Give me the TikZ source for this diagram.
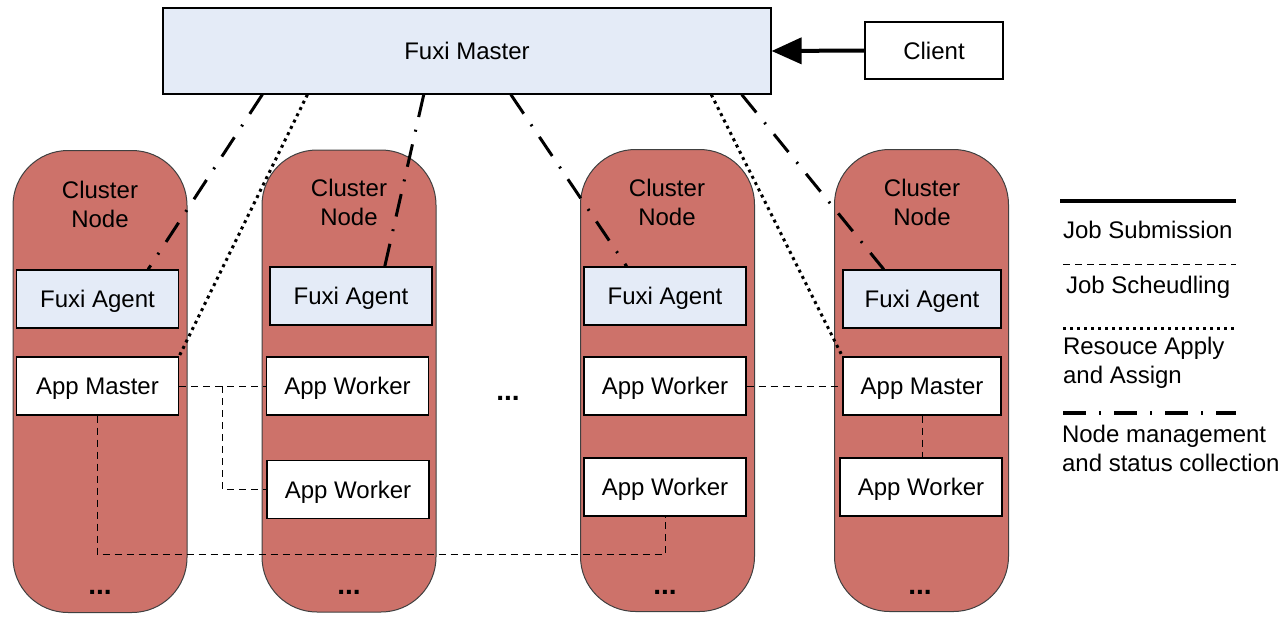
\documentclass[tikz,border=0pt]{standalone}
\usepackage{fontspec}
\setmainfont{Liberation Sans}
\usetikzlibrary{arrows.meta, positioning, calc}
\definecolor{nodered}{RGB}{205,114,106}
\definecolor{fuxiblue}{RGB}{228,235,247}

\begin{document}
\begin{tikzpicture}[
    x=0.5pt, y=-0.5pt,
    every node/.style={font=\fontsize{12}{14.5}\selectfont},
    cluster/.style={rectangle, draw=black!75, line width=0.5pt, fill=nodered, rounded corners=27.5pt, minimum width=87pt, minimum height=231pt},
    box/.style={rectangle, draw, line width=0.6pt, fill=white, minimum width=81pt, minimum height=29pt, inner sep=0pt, text depth=0pt},
    agent/.style={box, fill=fuxiblue},
    more/.style={font=\fontsize{14}{16}\selectfont\bfseries},
    submit/.style={line width=2pt},
    sched/.style={line width=0.5pt, dash pattern=on 3.5pt off 2.5pt},
    apply/.style={line width=1.5pt, dash pattern=on 1.5pt off 2pt},
    manage/.style={line width=1.5pt, dash pattern=on 11.5pt off 6.5pt on 1pt off 6.5pt}
]
\useasboundingbox (0,0) rectangle (1286,617);

\node[box, fill=fuxiblue, minimum width=304pt, minimum height=43pt] (fm) at (467,51) {Fuxi Master};
\node[box, minimum width=69pt, minimum height=28.5pt] (cl) at (934,50.5) {Client};
\draw[submit, -{Triangle[length=15pt, width=13pt]}] (cl.west) -- (fm.east);

\node[cluster] (c1) at (100,381.5) {};
\node[cluster] (c2) at (349,381) {};
\node[cluster] (c3) at (667.5,380.5) {};
\node[cluster] (c4) at (921.5,380.5) {};
\node[align=center] (t1) at (100,204) {Cluster\\Node};
\node[align=center] (t2) at (349,202) {Cluster\\Node};
\node[align=center] (t3) at (667,202) {Cluster\\Node};
\node[align=center] (t4) at (922,202) {Cluster\\Node};

\node[agent] (fa1) at (97.5,299) {Fuxi Agent};
\node[agent] (fa2) at (351,296) {Fuxi Agent};
\node[agent] (fa3) at (665,296) {Fuxi Agent};
\node[agent, minimum width=79pt] (fa4) at (922,299) {Fuxi Agent};

\node[box] (am1) at (97.5,386) {App Master};
\node[box] (aw2a) at (347.5,386) {App Worker};
\node[box] (aw2b) at (348,489.5) {App Worker};
\node[box] (aw3a) at (665,386) {App Worker};
\node[box] (aw3b) at (665,487) {App Worker};
\node[box, minimum width=79pt] (am4) at (922,386) {App Master};
\node[box] (aw4b) at (921,487) {App Worker};

\node[more] (d1) at (100,592) {...};
\node[more] (d2) at (349,592) {...};
\node[more] (d3) at (665,592) {...};
\node[more] (d4) at (920,592) {...};
\node[more] (dm) at (508,398) {...};

\draw[sched] (am1.east) -- (aw2a.west);
\draw[sched] ($(am1.east)!0.5!(aw2a.west)$) |- (aw2b.west);
\draw[sched] (am1.south) -- ++(0,139) -| (aw3b.south);
\draw[sched] (aw3a.east) -- (am4.west);
\draw[sched] (am4.south) -- (am4.south |- aw4b.north);

\draw[apply] ($(fm.south west)!0.238!(fm.south east)$) -- (am1.north east);
\draw[apply] ($(fm.south west)!0.901!(fm.south east)$) -- (am4.north west);

\draw[manage] ($(fm.south west)!0.164!(fm.south east)$) -- ($(fa1.north west)!0.81!(fa1.north east)$);
\draw[manage] ($(fm.south west)!0.429!(fm.south east)$) -- ($(fa2.north west)!0.707!(fa2.north east)$);
\draw[manage] ($(fm.south west)!0.572!(fm.south east)$) -- ($(fa3.north west)!0.265!(fa3.north east)$);
\draw[manage] ($(fm.south west)!0.951!(fm.south east)$) -- ($(fa4.north west)!0.26!(fa4.north east)$);

\draw[submit] (1060,201) -- (1236,201);
\node[anchor=west] (l1) at (1056,230) {Job Submission};
\draw[sched] (1063,264) -- (1236,264);
\node[anchor=west] (l2) at (1059,287) {Job Scheudling};
\draw[apply] (1063,328) -- (1236,328);
\node[anchor=west, align=left] (l3) at (1056,362.5) {Resouce Apply\\and Assign};
\draw[manage, line width=2pt] (1063,413) -- (1236,413);
\node[anchor=west, align=left] (l4) at (1055,448.5) {Node management\\and status collection};
\end{tikzpicture}
\end{document}
